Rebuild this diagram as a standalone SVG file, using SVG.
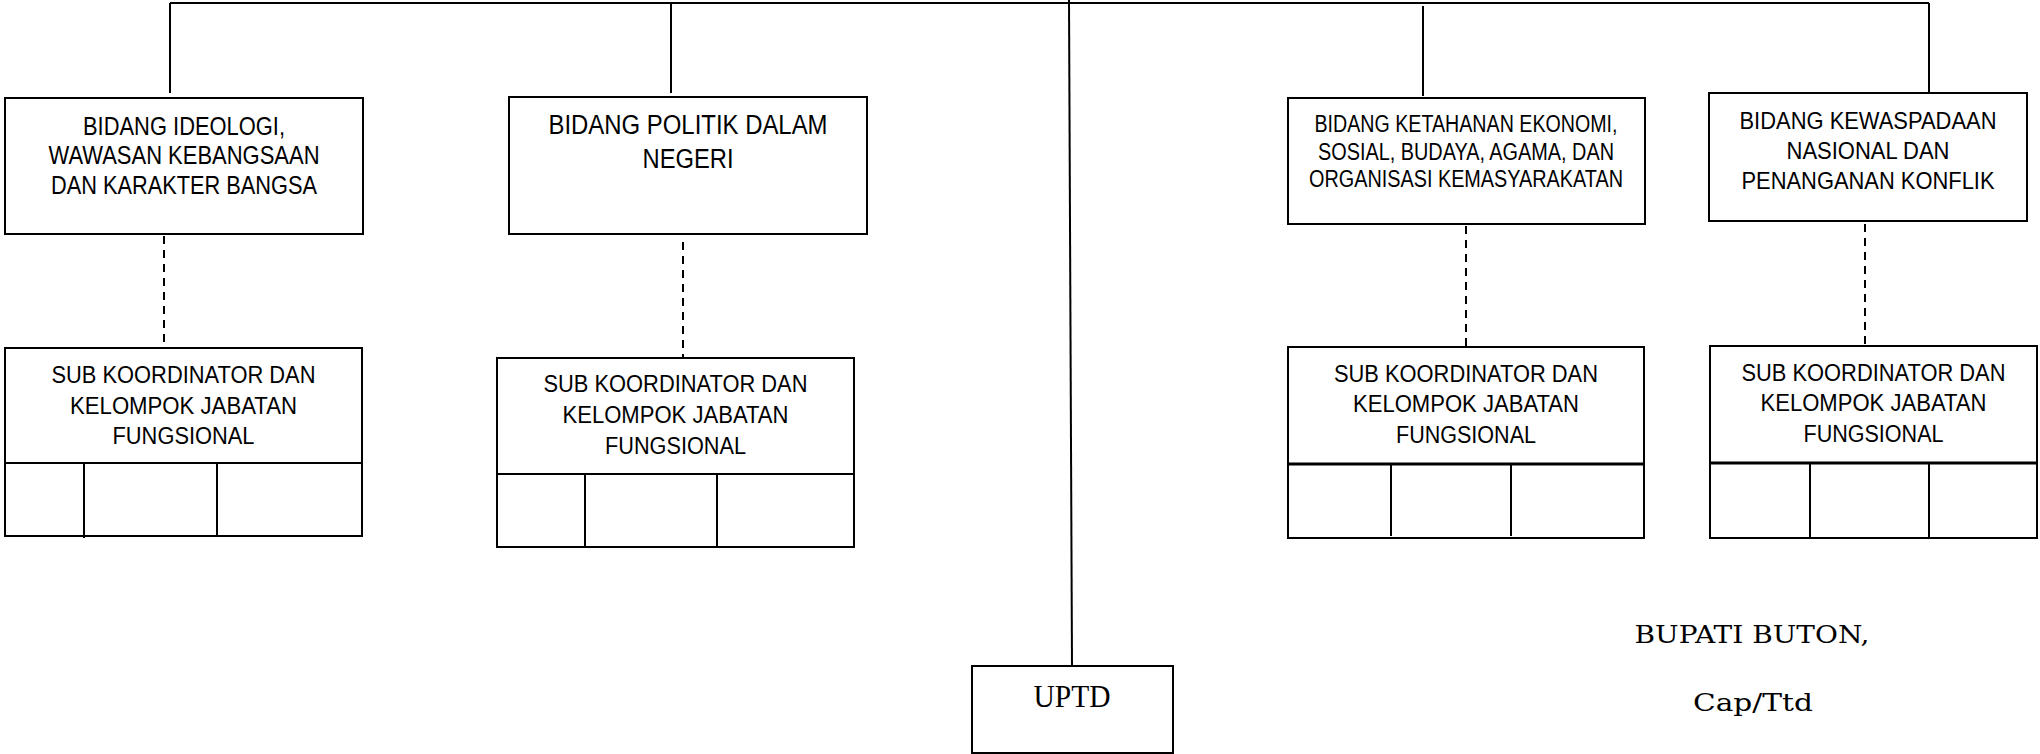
<svg xmlns="http://www.w3.org/2000/svg" width="2040" height="754" viewBox="0 0 2040 754">
<style>
.bg{fill:#fff}
.box{fill:#fff;stroke:#000;stroke-width:2}
.ln{stroke:#000;stroke-width:2;fill:none}
.thk{stroke:#000;stroke-width:3;fill:none}
.dash{stroke:#000;stroke-width:2;fill:none;stroke-dasharray:8 6}
.t1{font-family:"Liberation Sans",Arial,sans-serif;font-size:25.5px;text-anchor:middle;fill:#000}
.t2{font-family:"Liberation Sans",Arial,sans-serif;font-size:27px;text-anchor:middle;fill:#000}
.t3{font-family:"Liberation Sans",Arial,sans-serif;font-size:23px;text-anchor:middle;fill:#000}
.t4{font-family:"Liberation Sans",Arial,sans-serif;font-size:24.5px;text-anchor:middle;fill:#000}
.ts{font-family:"Liberation Sans",Arial,sans-serif;font-size:23px;text-anchor:middle;fill:#000}
.sf{font-family:"Liberation Serif","Times New Roman",serif;font-size:31px;text-anchor:middle;fill:#000}
.sg{font-family:"DejaVu Serif","Liberation Serif",serif;font-size:25px;text-anchor:middle;fill:#000}
</style>
<rect class="bg" x="0" y="0" width="2040" height="754"/>
<g id="connectors">
<line class="ln" x1="170" y1="3" x2="1929" y2="3"/>
<line class="ln" x1="170" y1="3" x2="170" y2="93"/>
<line class="ln" x1="671" y1="3" x2="671" y2="93"/>
<line class="ln" x1="1069" y1="0" x2="1072" y2="666"/>
<line class="ln" x1="1423" y1="6" x2="1423" y2="96"/>
<line class="ln" x1="1929" y1="3" x2="1929" y2="93"/>
<line class="dash" x1="164" y1="236" x2="164" y2="348"/>
<line class="dash" x1="683" y1="242" x2="683" y2="358"/>
<line class="dash" x1="1466" y1="226" x2="1466" y2="347"/>
<line class="dash" x1="1865" y1="224" x2="1865" y2="346"/>
</g>
<g id="bidang-ideologi">
<rect class="box" x="5" y="98" width="358" height="136"/>
<text class="t1" x="184" y="135" textLength="202" lengthAdjust="spacingAndGlyphs">BIDANG IDEOLOGI,</text>
<text class="t1" x="184" y="164" textLength="271" lengthAdjust="spacingAndGlyphs">WAWASAN KEBANGSAAN</text>
<text class="t1" x="184" y="194" textLength="266" lengthAdjust="spacingAndGlyphs">DAN KARAKTER BANGSA</text>
</g>
<g id="bidang-politik">
<rect class="box" x="509" y="97" width="358" height="137"/>
<text class="t2" x="688" y="134" textLength="279" lengthAdjust="spacingAndGlyphs">BIDANG POLITIK DALAM</text>
<text class="t2" x="688" y="168" textLength="91" lengthAdjust="spacingAndGlyphs">NEGERI</text>
</g>
<g id="bidang-ketahanan">
<rect class="box" x="1288" y="98" width="357" height="126"/>
<text class="t3" x="1466" y="132" textLength="303" lengthAdjust="spacingAndGlyphs">BIDANG KETAHANAN EKONOMI,</text>
<text class="t3" x="1466" y="160" textLength="296" lengthAdjust="spacingAndGlyphs">SOSIAL, BUDAYA, AGAMA, DAN</text>
<text class="t3" x="1466" y="187" textLength="314" lengthAdjust="spacingAndGlyphs">ORGANISASI KEMASYARAKATAN</text>
</g>
<g id="bidang-kewaspadaan">
<rect class="box" x="1709" y="93" width="318" height="128"/>
<text class="t4" x="1868" y="129" textLength="257" lengthAdjust="spacingAndGlyphs">BIDANG KEWASPADAAN</text>
<text class="t4" x="1868" y="159" textLength="163" lengthAdjust="spacingAndGlyphs">NASIONAL DAN</text>
<text class="t4" x="1868" y="189" textLength="253" lengthAdjust="spacingAndGlyphs">PENANGANAN KONFLIK</text>
</g>
<g id="sub-1">
<rect class="box" x="5" y="348" width="357" height="188"/>
<line class="ln" x1="5" y1="463" x2="362" y2="463"/>
<line class="ln" x1="84" y1="463" x2="84" y2="538"/>
<line class="ln" x1="217" y1="463" x2="217" y2="536"/>
<text class="ts" x="183.5" y="383" textLength="264" lengthAdjust="spacingAndGlyphs">SUB KOORDINATOR DAN</text>
<text class="ts" x="183.5" y="414" textLength="227" lengthAdjust="spacingAndGlyphs">KELOMPOK JABATAN</text>
<text class="ts" x="183.5" y="444" textLength="142" lengthAdjust="spacingAndGlyphs">FUNGSIONAL</text>
</g>
<g id="sub-2">
<rect class="box" x="497" y="358" width="357" height="189"/>
<line class="ln" x1="497" y1="474" x2="854" y2="474"/>
<line class="ln" x1="585" y1="474" x2="585" y2="547"/>
<line class="ln" x1="717" y1="474" x2="717" y2="547"/>
<text class="ts" x="675.5" y="392" textLength="264" lengthAdjust="spacingAndGlyphs">SUB KOORDINATOR DAN</text>
<text class="ts" x="675.5" y="423" textLength="226" lengthAdjust="spacingAndGlyphs">KELOMPOK JABATAN</text>
<text class="ts" x="675.5" y="454" textLength="141" lengthAdjust="spacingAndGlyphs">FUNGSIONAL</text>
</g>
<g id="sub-3">
<rect class="box" x="1288" y="347" width="356" height="191"/>
<line class="thk" x1="1288" y1="464" x2="1644" y2="464"/>
<line class="ln" x1="1391" y1="464" x2="1391" y2="536"/>
<line class="ln" x1="1511" y1="464" x2="1511" y2="536"/>
<text class="ts" x="1466" y="382" textLength="264" lengthAdjust="spacingAndGlyphs">SUB KOORDINATOR DAN</text>
<text class="ts" x="1466" y="412" textLength="226" lengthAdjust="spacingAndGlyphs">KELOMPOK JABATAN</text>
<text class="ts" x="1466" y="443" textLength="140" lengthAdjust="spacingAndGlyphs">FUNGSIONAL</text>
</g>
<g id="sub-4">
<rect class="box" x="1710" y="346" width="327" height="192"/>
<line class="thk" x1="1710" y1="463" x2="2037" y2="463"/>
<line class="ln" x1="1810" y1="463" x2="1810" y2="538"/>
<line class="ln" x1="1929" y1="463" x2="1929" y2="538"/>
<text class="ts" x="1873.5" y="381" textLength="264" lengthAdjust="spacingAndGlyphs">SUB KOORDINATOR DAN</text>
<text class="ts" x="1873.5" y="411" textLength="226" lengthAdjust="spacingAndGlyphs">KELOMPOK JABATAN</text>
<text class="ts" x="1873.5" y="442" textLength="140" lengthAdjust="spacingAndGlyphs">FUNGSIONAL</text>
</g>
<g id="uptd">
<rect class="box" x="972" y="666" width="201" height="87"/>
<text class="sf" x="1072" y="707" textLength="77" lengthAdjust="spacingAndGlyphs">UPTD</text>
</g>
<g id="signature">
<text class="sg" x="1752" y="643" textLength="235" lengthAdjust="spacingAndGlyphs">BUPATI BUTON,</text>
<text class="sg" x="1753" y="711" textLength="120" lengthAdjust="spacingAndGlyphs">Cap/Ttd</text>
</g>
</svg>
